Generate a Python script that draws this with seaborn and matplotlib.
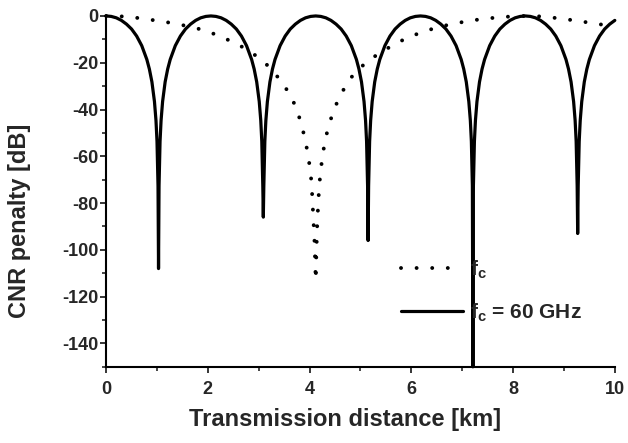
import matplotlib
matplotlib.use("Agg")
import matplotlib.pyplot as plt
import seaborn as sns
import pandas as pd
from matplotlib.ticker import MultipleLocator

# solid curve, fc = 60 GHz
solid_km = [
    0.00, 0.10, 0.20, 0.30, 0.40, 0.50, 0.60, 0.70, 0.80, 0.85, 0.90, 0.95, 0.98, 1.00, 1.02, 1.03,
    1.04, 1.06, 1.08, 1.11, 1.16, 1.21, 1.26, 1.36, 1.46, 1.56, 1.66, 1.76, 1.86, 1.96, 2.06,
    2.16, 2.26, 2.36, 2.46, 2.56, 2.66, 2.76, 2.86, 2.91, 2.96, 3.01, 3.04, 3.06, 3.08, 3.09,
    3.10, 3.12, 3.14, 3.17, 3.22, 3.27, 3.32, 3.42, 3.52, 3.62, 3.72, 3.82, 3.92, 4.02, 4.12,
    4.22, 4.32, 4.42, 4.52, 4.62, 4.72, 4.82, 4.92, 4.97, 5.02, 5.07, 5.10, 5.12, 5.14, 5.15,
    5.16, 5.18, 5.20, 5.23, 5.28, 5.33, 5.38, 5.48, 5.58, 5.68, 5.78, 5.88, 5.98, 6.08, 6.18,
    6.28, 6.38, 6.48, 6.58, 6.68, 6.78, 6.88, 6.98, 7.03, 7.08, 7.13, 7.16, 7.18, 7.20, 7.21,
    7.22, 7.24, 7.26, 7.29, 7.34, 7.39, 7.44, 7.54, 7.64, 7.74, 7.84, 7.94, 8.04, 8.14, 8.24,
    8.34, 8.44, 8.54, 8.64, 8.74, 8.84, 8.94, 9.04, 9.09, 9.14, 9.19, 9.22, 9.24, 9.26, 9.27,
    9.28, 9.30, 9.32, 9.35, 9.40, 9.45, 9.50, 9.60, 9.70, 9.80, 9.90, 10.00,
]
solid_db = [
    0, -0.2, -0.8, -1.9, -3.5, -5.6, -8.6, -12.7, -18.6, -22.7, -28.2, -36.6, -44.7, -53.6, -72.7, -108,
    -72.7, -53.6, -44.7, -36.6, -28.2, -22.7, -18.6, -12.7, -8.6, -5.6, -3.5, -1.9, -0.8, -0.2, 0,
    -0.2, -0.8, -1.9, -3.5, -5.6, -8.6, -12.7, -18.6, -22.7, -28.2, -36.6, -44.7, -53.6, -72.7, -86,
    -72.7, -53.6, -44.7, -36.6, -28.2, -22.7, -18.6, -12.7, -8.6, -5.6, -3.5, -1.9, -0.8, -0.2, 0,
    -0.2, -0.8, -1.9, -3.5, -5.6, -8.6, -12.7, -18.6, -22.7, -28.2, -36.6, -44.7, -53.6, -72.7, -96,
    -72.7, -53.6, -44.7, -36.6, -28.2, -22.7, -18.6, -12.7, -8.6, -5.6, -3.5, -1.9, -0.8, -0.2, 0,
    -0.2, -0.8, -1.9, -3.5, -5.6, -8.6, -12.7, -18.6, -22.7, -28.2, -36.6, -44.7, -53.6, -72.7, -150,
    -72.7, -53.6, -44.7, -36.6, -28.2, -22.7, -18.6, -12.7, -8.6, -5.6, -3.5, -1.9, -0.8, -0.2, 0,
    -0.2, -0.8, -1.9, -3.5, -5.6, -8.6, -12.7, -18.6, -22.7, -28.2, -36.6, -44.7, -53.6, -72.7, -93,
    -72.7, -53.6, -44.7, -36.6, -28.2, -22.7, -18.6, -12.7, -8.6, -5.6, -3.5, -1.9,
]

# dotted curve
dotted_km = [
    0.00, 0.31, 0.60, 0.90, 1.20, 1.45, 1.72, 2.01, 2.29, 2.57, 2.86, 3.14, 3.41, 3.61, 3.75,
    3.84, 3.92, 3.97, 4.02, 4.04, 4.06, 4.07, 4.09, 4.10, 4.11, 4.12,
    4.13, 4.14, 4.15, 4.17, 4.19, 4.22, 4.26, 4.31, 4.39, 4.49, 4.63, 4.83, 5.10, 5.40, 5.68,
    5.95, 6.27, 6.54, 6.90, 7.30, 7.70, 7.98, 8.24, 8.53, 8.90, 9.30, 9.65, 10.00,
]
dotted_db = [
    0, -0.2, -0.8, -1.7, -2.7, -3.7, -4.9, -6.7, -9.2, -11.9, -15.6, -20.4, -27.0, -33.4, -39.9,
    -46.6, -53.3, -60.0, -66.4, -73.0, -79.6, -86.2, -92.5, -99.0, -105.7, -113,
    -104, -96, -89, -80, -72.5, -65.7, -59, -52.6, -45.9, -39.4, -32.8, -26, -20, -15.5, -12,
    -9, -6.5, -4.7, -3.0, -1.6, -0.6, -0.2, 0, -0.2, -1.0, -2.2, -3.4, -4.5,
]

labels = ["f$_\\mathregular{c}$", "f$_\\mathregular{c}$ = 60 GHz"]

sns.set_style("ticks")
plt.rcParams["font.family"] = ["Liberation Sans", "DejaVu Sans"]
plt.rcParams["font.weight"] = "bold"
plt.rcParams["mathtext.fontset"] = "custom"
plt.rcParams["mathtext.rm"] = "Liberation Sans:bold"
plt.rcParams["axes.unicode_minus"] = False

fig, ax = plt.subplots(figsize=(6.28, 4.43), dpi=100)
fig.subplots_adjust(left=0.169, right=0.979, bottom=0.172, top=0.964)

dotted = pd.DataFrame({"km": dotted_km, "db": dotted_db})
solid = pd.DataFrame({"km": solid_km, "db": solid_db})

sns.lineplot(data=dotted, x="km", y="db", ax=ax, color="black", lw=2.8,
             linestyle=(0, (0.01, 4.0)), dash_capstyle="round",
             estimator=None, label=labels[0])
sns.lineplot(data=solid, x="km", y="db", ax=ax, color="black", lw=2.3,
             estimator=None, label=labels[1])
for ln in ax.lines:
    ln.set_clip_on(False)

ax.set_xlim(0, 10)
ax.set_ylim(-150, 0)
ax.xaxis.set_major_locator(MultipleLocator(2))
ax.xaxis.set_minor_locator(MultipleLocator(1))
ax.yaxis.set_major_locator(MultipleLocator(20))
ax.yaxis.set_minor_locator(MultipleLocator(10))
ax.tick_params(which="major", direction="out", length=4.5, width=1.3, labelsize=13)
ax.tick_params(which="minor", direction="out", length=3, width=1.2)
ax.tick_params(axis="x", pad=6)
ax.tick_params(axis="y", pad=1)
for lab in ax.get_xticklabels() + ax.get_yticklabels():
    lab.set_fontweight("bold")

sns.despine(ax=ax)
for sp in ["left", "bottom"]:
    ax.spines[sp].set_linewidth(1.5)
    ax.spines[sp].set_color("black")

ax.set_xlabel("Transmission distance [km]", fontsize=17, fontweight="bold")
ax.set_ylabel("CNR penalty [dB]", fontsize=17, fontweight="bold")
ax.xaxis.set_label_coords(0.47, -0.118)
ax.yaxis.set_label_coords(-0.148, 0.417)

leg = ax.legend(loc="upper left", bbox_to_anchor=(0.579, 0.31), frameon=False,
                fontsize=15, handlelength=3.0, handletextpad=0.35, labelspacing=1.0,
                borderpad=0, borderaxespad=0)
for t in leg.get_texts():
    t.set_fontweight("bold")

fig.savefig("out.png", dpi=100)
